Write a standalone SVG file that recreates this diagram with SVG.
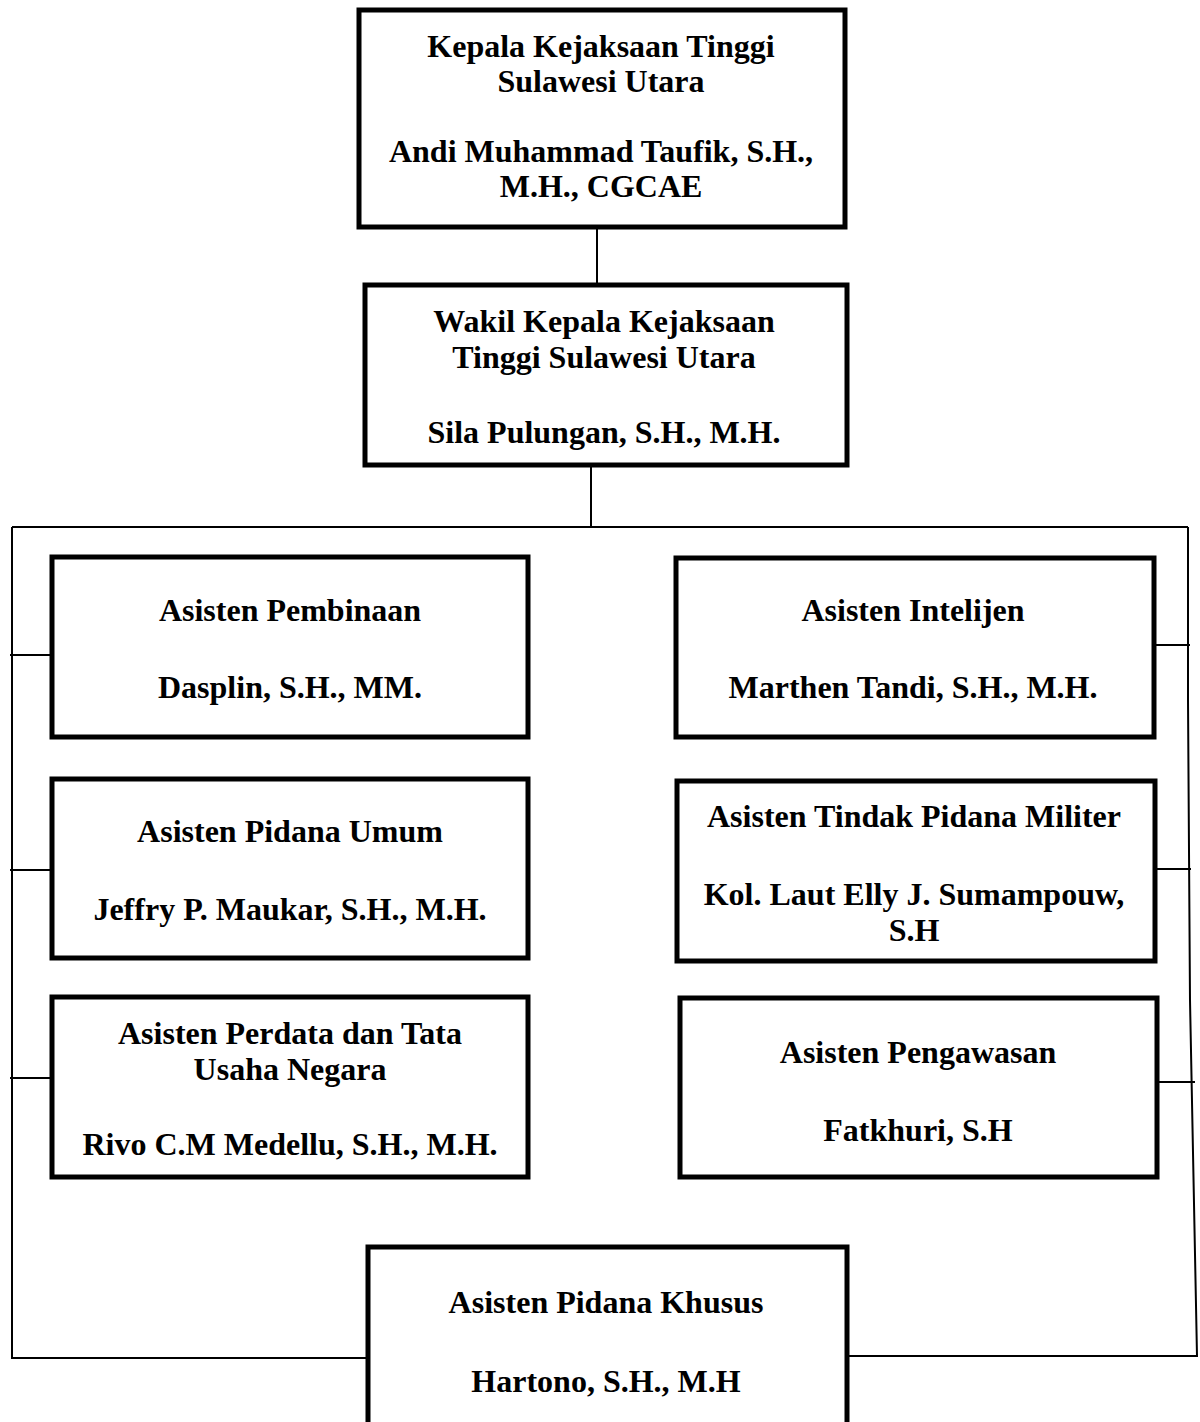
<svg xmlns="http://www.w3.org/2000/svg" width="1200" height="1422" viewBox="0 0 1200 1422">
<style>
.box{fill:#fff;stroke:#000;stroke-width:5}
.ln{fill:none;stroke:#000;stroke-width:2}
text{font-family:"Liberation Serif","Times New Roman",serif;font-weight:bold;font-size:32px;fill:#000;text-anchor:middle}
</style>
<rect width="1200" height="1422" fill="#fff"/>
<g id="connectors">
<line class="ln" x1="597" y1="227" x2="597" y2="285"/>
<line class="ln" x1="591" y1="462" x2="591" y2="527"/>
<polyline class="ln" points="12,527 1188,527"/>
<polyline class="ln" points="12,527 12,1358 368,1358"/>
<polyline class="ln" points="1188,527 1188,700 1190,1000 1197,1356 848,1356"/>
<line class="ln" x1="10" y1="655" x2="52" y2="655"/>
<line class="ln" x1="10" y1="870" x2="52" y2="870"/>
<line class="ln" x1="10" y1="1078" x2="52" y2="1078"/>
<line class="ln" x1="1155" y1="645" x2="1190" y2="645"/>
<line class="ln" x1="1155" y1="869" x2="1191" y2="869"/>
<line class="ln" x1="1157" y1="1082" x2="1195" y2="1082"/>
</g>
<g id="kepala">
<rect class="box" x="359" y="10" width="486" height="217"/>
<text x="601" y="57">Kepala Kejaksaan Tinggi</text>
<text x="601" y="92">Sulawesi Utara</text>
<text x="601" y="162">Andi Muhammad Taufik, S.H.,</text>
<text x="601" y="197">M.H., CGCAE</text>
</g>
<g id="wakil">
<rect class="box" x="365" y="285" width="482" height="180"/>
<text x="604" y="332">Wakil Kepala Kejaksaan</text>
<text x="604" y="368">Tinggi Sulawesi Utara</text>
<text x="604" y="443">Sila Pulungan, S.H., M.H.</text>
</g>
<g id="pembinaan">
<rect class="box" x="52" y="557" width="476" height="180"/>
<text x="290" y="621">Asisten Pembinaan</text>
<text x="290" y="698">Dasplin, S.H., MM.</text>
</g>
<g id="intelijen">
<rect class="box" x="676" y="558" width="478" height="179"/>
<text x="913" y="621">Asisten Intelijen</text>
<text x="913" y="698">Marthen Tandi, S.H., M.H.</text>
</g>
<g id="pidana-umum">
<rect class="box" x="52" y="779" width="476" height="179"/>
<text x="290" y="842">Asisten Pidana Umum</text>
<text x="290" y="920">Jeffry P. Maukar, S.H., M.H.</text>
</g>
<g id="militer">
<rect class="box" x="677" y="781" width="478" height="180"/>
<text x="914" y="827">Asisten Tindak Pidana Militer</text>
<text x="914" y="905">Kol. Laut Elly J. Sumampouw,</text>
<text x="914" y="941">S.H</text>
</g>
<g id="perdata">
<rect class="box" x="52" y="997" width="476" height="180"/>
<text x="290" y="1044">Asisten Perdata dan Tata</text>
<text x="290" y="1080">Usaha Negara</text>
<text x="290" y="1155">Rivo C.M Medellu, S.H., M.H.</text>
</g>
<g id="pengawasan">
<rect class="box" x="680" y="998" width="477" height="179"/>
<text x="918" y="1063">Asisten Pengawasan</text>
<text x="918" y="1141">Fatkhuri, S.H</text>
</g>
<g id="khusus">
<rect class="box" x="368" y="1247" width="479" height="190"/>
<text x="606" y="1313">Asisten Pidana Khusus</text>
<text x="606" y="1392">Hartono, S.H., M.H</text>
</g>
</svg>
